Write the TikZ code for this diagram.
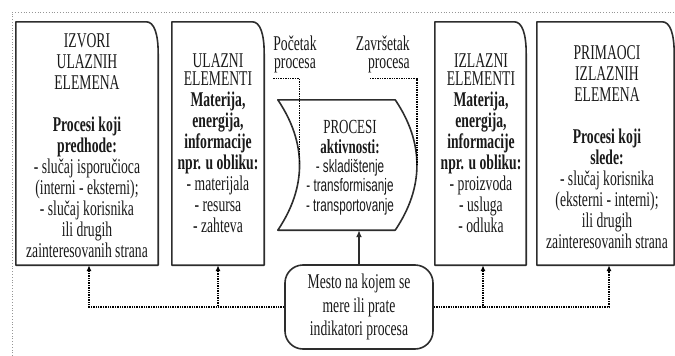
\documentclass[tikz,border=0pt]{standalone}
\usepackage{fontspec}
\setmainfont{Liberation Serif}[FakeStretch=0.65]
\setsansfont{Liberation Sans}[FakeStretch=0.65]
\usetikzlibrary{arrows.meta}
\definecolor{frameline}{RGB}{150,150,150}
\definecolor{boxline}{RGB}{45,45,45}
\definecolor{textdark}{RGB}{25,25,25}
\newcommand{\akt}[1]{{\sffamily\fontsize{18}{19.3}\selectfont #1}}

\begin{document}
\begin{tikzpicture}[x=1pt, y=-1pt,
        every node/.style={inner sep=0pt, text=textdark, font=\fontsize{21}{21}\selectfont},
        shell/.style={minimum height=243pt},
        body/.style={anchor=base, align=center},
        outline/.style={draw=boxline, line width=1.6pt, line join=round},
        probe/.style={densely dotted, line width=1.4pt},
        feed/.style={probe, -{Latex[length=6pt,width=5pt]}}]
    \useasboundingbox (0,0) rectangle (675,356);
    \draw[frameline, dotted, line width=0.8pt] (12,356) -- (12,12) -- (675,12);

    % element boxes
    \node[shell, minimum width=142pt] (izvori) at (87,143.5) {};
    \node[shell, minimum width=92pt] (ulazni) at (218,143.5) {};
    \node[shell, minimum width=91pt] (izlazni) at (480.5,143.5) {};
    \node[shell, minimum width=137pt] (primaoci) at (605.5,143.5) {};
    \foreach \b in {izvori,ulazni,izlazni,primaoci}
        \draw[outline] (\b.south west) -- (\b.north west) -- ([xshift=-12pt]\b.north east)
            .. controls ([xshift=-4pt]\b.north east) and ([yshift=-12pt]\b.north east)
            .. ([yshift=-32pt]\b.north east) -- (\b.south east) -- cycle;

    % texts sit on the baseline of their last line
    \node[body] (izvoriTxt) at (87,257) {IZVORI\\ULAZNIH\\ELEMENA\\[21pt]
        \textbf{Procesi koji}\\\textbf{predhode:}\\- slučaj isporučioca\\(interni - eksterni);\\
        - slučaj korisnika\\ili drugih\\zainteresovanih strana};
    \node[body] (ulazniTxt) at (218,232) {ULAZNI\\[-3pt]ELEMENTI\\\textbf{Materija,}\\
        \textbf{energija,}\\\textbf{informacije}\\\textbf{npr. u obliku:}\\
        - materijala\\- resursa\\- zahteva};
    \node[body] (izlazniTxt) at (481,232) {IZLAZNI\\[-3pt]ELEMENTI\\\textbf{Materija,}\\
        \textbf{energija,}\\\textbf{informacije}\\\textbf{npr. u obliku:}\\
        - proizvoda\\- usluga\\- odluka};
    \node[body] (primaociTxt) at (607,248) {PRIMAOCI\\IZLAZNIH\\ELEMENA\\[21pt]
        \textbf{Procesi koji}\\\textbf{slede:}\\- slučaj korisnika\\(eksterni - interni);\\
        ili drugih\\zainteresovanih strana};

    % process in the middle
    \node[minimum width=117pt, minimum height=130pt] (procesi) at (336.5,165) {};
    \draw[outline] (procesi.south west) .. controls +(29,-43) and +(29,43)
            .. (procesi.north west) coordinate[pos=0.5] (lmid)
        -- (procesi.north east) .. controls +(29,43) and +(29,-43)
            .. (procesi.south east) coordinate[pos=0.5] (rmid)
        -- cycle;
    \node[body, font=\fontsize{20}{19.3}\selectfont] (procesiTxt) at (350,211)
        {PROCESI\\\textbf{aktivnosti:}\\\akt{- skladištenje}\\\akt{- transformisanje}\\
        \akt{- transportovanje}};

    \node[body, font=\fontsize{21}{18}\selectfont] (pocetak) at (295,68) {Početak\\procesa};
    \node[body, anchor=base east, align=right, font=\fontsize{21}{18}\selectfont]
        (zavrsetak) at (410,68) {Završetak\\procesa};
    \draw[probe] ([yshift=-6pt]pocetak.south west) -| (lmid);
    \draw[probe] ([xshift=-40pt,yshift=-6pt]zavrsetak.south east) -| (rmid);

    % measuring point
    \node[outline, rounded corners=18pt, minimum width=148pt, minimum height=84pt,
        align=center, font=\fontsize{21}{23.5}\selectfont]
        (mesto) at (359,307) {Mesto na kojem se\\mere ili prate\\indikatori procesa};
    \draw[boxline, line width=1.5pt, -{Latex[length=7pt,width=6pt]}]
        (mesto.north) -- (mesto.north |- procesi.south);
    \draw[feed] (mesto.west) -| ([xshift=2pt]izvori.south);
    \draw[feed] (mesto.west) -| (ulazni.south);
    \draw[feed] (mesto.east) -| ([xshift=2.5pt]izlazni.south);
    \draw[feed] (mesto.east) -| ([xshift=3.5pt]primaoci.south);
\end{tikzpicture}
\end{document}
